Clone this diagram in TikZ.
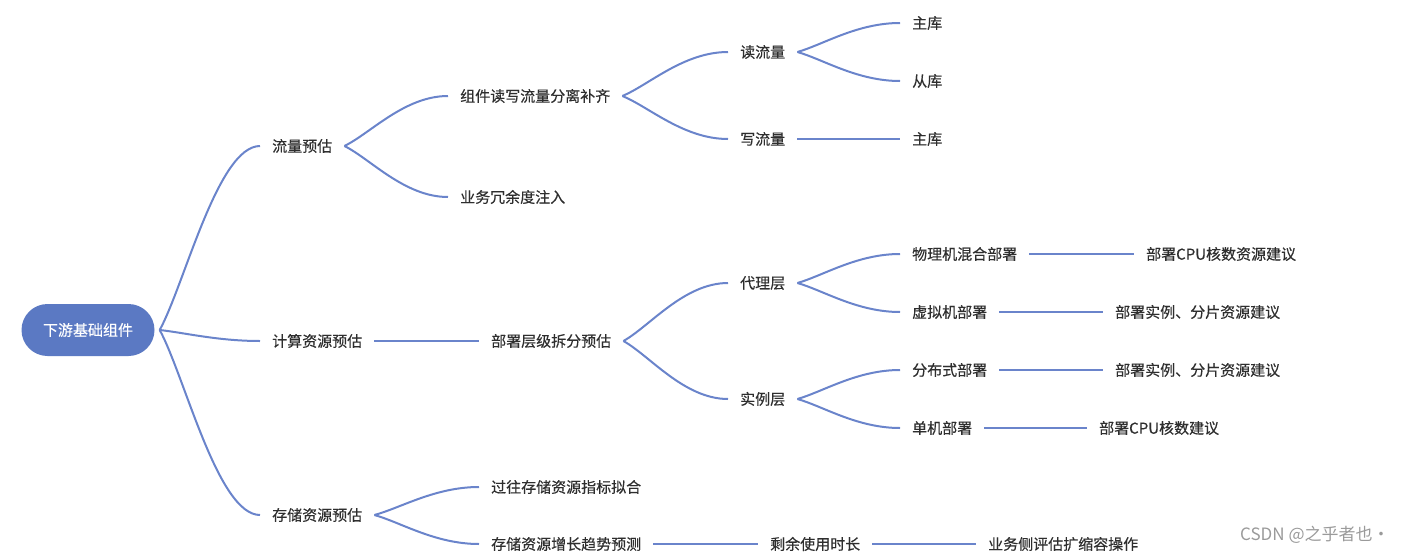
\documentclass[tikz,border=0pt]{standalone}
\usepackage{fontspec}
\setmainfont{Noto Sans CJK SC}[FakeBold=0.35]
\newfontfamily\wmfont{Noto Sans CJK SC}
\usetikzlibrary{calc}
\definecolor{linkc}{HTML}{6A84CB}
\definecolor{rootc}{HTML}{5B79C3}
\definecolor{txtc}{HTML}{2E2E2E}
\definecolor{wmc}{HTML}{9A9A9A}
\tikzset{
  topic/.style={anchor=west, inner xsep=12pt, inner ysep=2pt, text=txtc, font=\fontsize{15}{18}\selectfont},
  link/.style={draw=linkc, line width=2pt},
  rootbox/.style={fill=rootc, text=white, rounded corners=26pt, minimum width=133pt, minimum height=52pt, inner sep=0pt, font=\fontsize{15}{18}\selectfont},
  wmark/.style={anchor=west, inner sep=0pt, text=wmc, font=\wmfont\fontsize{17}{20}\selectfont}
}
\newcommand\mmlink[2]{\draw[link] (#1) .. controls ($(#1)!0.25!(#2)$) and ($(#2)!0.42!(#1 |- #2)$) .. (#2);}
\newcommand\mmline[2]{\draw[link] (#1) -- (#2);}
\begin{document}
\begin{tikzpicture}[x=1pt,y=1pt]
\useasboundingbox (0,0) rectangle (1406,-554);
\node[rootbox] (root) at (88,-330) {下游基础组件};
\coordinate (rf) at ($(root.east)+(5,0)$);
% level 1
\node[topic] (ll) at (260,-146) {流量预估};
\node[topic] (js) at (260,-341) {计算资源预估};
\node[topic] (cc) at (260,-515) {存储资源预估};
% level 2
\node[topic] (zj) at (448,-96) {组件读写流量分离补齐};
\node[topic] (yw) at (448,-197) {业务冗余度注入};
\node[topic] (bs) at (479,-341) {部署层级拆分预估};
\node[topic] (gw) at (479,-487) {过往存储资源指标拟合};
\node[topic] (zz) at (479,-544) {存储资源增长趋势预测};
% level 3
\node[topic] (dl) at (728,-52) {读流量};
\node[topic] (xl) at (728,-139) {写流量};
\node[topic] (dc) at (728,-283) {代理层};
\node[topic] (sl) at (728,-399) {实例层};
\node[topic] (sy) at (758,-544) {剩余使用时长};
% level 4
\node[topic] (zk1) at (900,-23) {主库};
\node[topic] (ck) at (900,-81) {从库};
\node[topic] (zk2) at (900,-139) {主库};
\node[topic] (wl) at (900,-254) {物理机混合部署};
\node[topic] (xn) at (900,-312) {虚拟机部署};
\node[topic] (fb) at (900,-370) {分布式部署};
\node[topic] (dj) at (900,-428) {单机部署};
\node[topic] (pg) at (976,-544) {业务侧评估扩缩容操作};
% level 5
\node[topic] (cpu1) at (1134,-254) {部署CPU核数资源建议};
\node[topic] (fp1) at (1103,-312) {部署实例、分片资源建议};
\node[topic] (fp2) at (1103,-370) {部署实例、分片资源建议};
\node[topic] (cpu2) at (1087,-428) {部署CPU核数建议};
% watermark
\node[wmark] (wm) at (1240,-535) {CSDN @之乎者也·};
% connectors
\mmlink{rf}{ll.west}
\mmlink{rf}{js.west}
\mmlink{rf}{cc.west}
\mmlink{ll.east}{zj.west}
\mmlink{ll.east}{yw.west}
\mmline{js.east}{bs.west}
\mmlink{cc.east}{gw.west}
\mmlink{cc.east}{zz.west}
\mmlink{zj.east}{dl.west}
\mmlink{zj.east}{xl.west}
\mmlink{bs.east}{dc.west}
\mmlink{bs.east}{sl.west}
\mmline{zz.east}{sy.west}
\mmlink{dl.east}{zk1.west}
\mmlink{dl.east}{ck.west}
\mmline{xl.east}{zk2.west}
\mmlink{dc.east}{wl.west}
\mmlink{dc.east}{xn.west}
\mmlink{sl.east}{fb.west}
\mmlink{sl.east}{dj.west}
\mmline{sy.east}{pg.west}
\mmline{wl.east}{cpu1.west}
\mmline{xn.east}{fp1.west}
\mmline{fb.east}{fp2.west}
\mmline{dj.east}{cpu2.west}
\end{tikzpicture}
\end{document}
